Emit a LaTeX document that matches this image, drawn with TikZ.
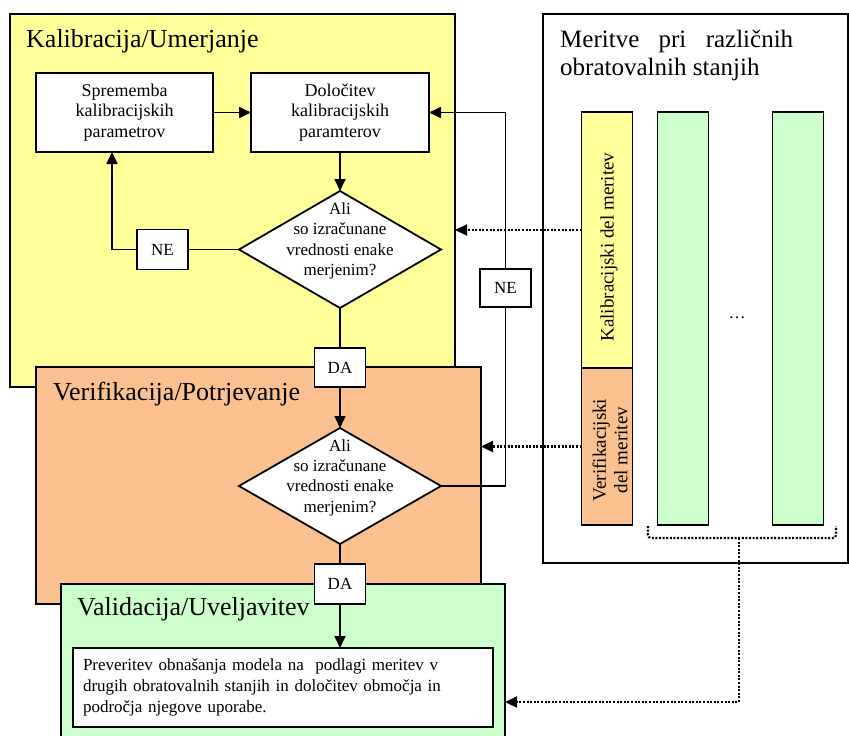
\documentclass[tikz,border=0pt]{standalone}
\usepackage{fontspec}
\setmainfont{Liberation Serif}
\usetikzlibrary{shapes.geometric,arrows.meta}

\definecolor{calyellow}{HTML}{FFFF99}
\definecolor{verorange}{HTML}{FAC090}
\definecolor{valgreen}{HTML}{CCFFCC}

\tikzset{
  region/.style={draw=black, line width=1.8pt, inner sep=0pt, outer sep=0pt},
  stage title/.style={font=\fontsize{26}{30}\selectfont, inner sep=0pt, anchor=base west},
  procbox/.style={draw=black, fill=white, line width=1.8pt, align=center,
    font=\fontsize{18}{20.5}\selectfont, inner sep=0pt, outer sep=0pt},
  tagbox/.style={procbox, font=\fontsize{17}{20}\selectfont, minimum width=51, minimum height=40},
  decision/.style={diamond, draw=black, fill=white, line width=1.8pt,
    inner sep=0pt, outer sep=0pt, minimum width=202, minimum height=117},
  decision text/.style={align=center, font=\fontsize{17}{20.3}\selectfont, inner sep=0pt},
  column/.style={draw=black, line width=1.8pt, inner sep=0pt, outer sep=0pt, minimum width=51},
  coltext/.style={rotate=90, align=center, font=\fontsize{19}{21.5}\selectfont, inner sep=0pt},
  link/.style={line width=1.7pt},
  flow/.style={line width=1.7pt, -{Triangle[length=12pt,width=11pt]}},
  dotlink/.style={line width=2.2pt, dash pattern=on 2pt off 1.6pt,
    -{Triangle[length=12pt,width=11pt]}},
  dotline/.style={line width=2.2pt, dash pattern=on 2pt off 1.6pt, rounded corners=3pt},
}

\begin{document}
\begin{tikzpicture}[x=1pt,y=-1pt]
\useasboundingbox (0,0) rectangle (849,736);

% stage regions, stacked from back to front
\node[region, fill=calyellow, minimum width=445, minimum height=373] (kal) at (232.5,200.5) {};
\node[region, fill=verorange, minimum width=445, minimum height=237] (ver) at (258.5,485.5) {};
\node[region, fill=valgreen, minimum width=444, minimum height=170] (val) at (283,669) {};
\node[region, fill=white, minimum width=305, minimum height=549] (mer) at (695.5,288.5) {};

% titles
\node[stage title] (kaltitle) at (26,47) {Kalibracija/Umerjanje};
\node[stage title] (vertitle) at (53,400) {Verifikacija/Potrjevanje};
\node[stage title] (valtitle) at (77,615) {Validacija/Uveljavitev};
\node[stage title, font=\fontsize{25}{28}\selectfont] (mertitleA) at (560,47)
  {\makebox[233pt][s]{Meritve pri različnih}};
\node[stage title, font=\fontsize{25}{28}\selectfont] (mertitleB) at (560,75)
  {obratovalnih stanjih};

% calibration loop
\node[procbox, minimum width=177, minimum height=79] (spr) at (124.5,112.5)
  {Sprememba\\kalibracijskih\\parametrov};
\node[procbox, minimum width=178, minimum height=79] (dol) at (340,112.5)
  {Določitev\\kalibracijskih\\paramterov};
\node[decision] (q1) at (340,249.5) {};
\node[decision text] (q1t) at (340,241) {Ali\\so izračunane\\vrednosti enake\\merjenim?};
\node[tagbox] (ne1) at (162.5,249.5) {NE};
\node[tagbox, minimum height=39] (da1) at (340,367.5) {DA};

% verification
\node[decision, minimum height=116] (q2) at (340,486) {};
\node[decision text] (q2t) at (340,477.5) {Ali\\so izračunane\\vrednosti enake\\merjenim?};
\node[tagbox, minimum height=38] (ne2) at (505.5,288) {NE};
\node[tagbox] (da2) at (340,584) {DA};

% validation
\node[procbox, align=left, text width=400, inner xsep=10pt, minimum height=79,
  font=\fontsize{17}{21}\selectfont] (prev) at (283,687.5)
  {Preveritev obnašanja modela na\ \ podlagi meritev v\\
   drugih obratovalnih stanjih in določitev območja in\\
   področja njegove uporabe.};

% measurement columns
\node[column, fill=calyellow, minimum height=256] (kcol) at (607,240) {};
\node[column, fill=verorange, minimum height=157] (vcol) at (607,446.5) {};
\node[column, fill=valgreen, minimum height=413] (gcolA) at (683,318.5) {};
\node[column, fill=valgreen, minimum height=413] (gcolB) at (798,318.5) {};
\node[coltext] (ktext) at (609,247) {Kalibracijski del meritev};
\node[coltext] (vtext) at (610,450) {Verifikacijski\\del meritev};
\node[font=\fontsize{17}{20}\selectfont, inner sep=0pt] (gdots) at (737,318) {\dots};

% solid connectors
\draw[flow] (spr) -- (dol);
\draw[flow] (dol) -- (q1);
\draw[link] (q1.west) -- (ne1.east);
\coordinate (loopA) at (112,249.5);
\draw[flow] (ne1.west) -- (loopA) -- (loopA |- spr.south);
\draw[link] (q1.south) -- (da1.north);
\draw[flow] (da1.south) -- (q2.north);
\draw[link] (q2.east) -- (q2.east -| ne2.south) -- (ne2.south);
\draw[flow] (ne2.north) -- (ne2.north |- dol.east) -- (dol.east);
\draw[link] (q2.south) -- (da2.north);
\draw[flow] (da2.south) -- (da2.south |- prev.north);

% dotted data connectors
\path ([yshift=10pt]kcol.west) coordinate (kin);
\draw[dotlink] (kin) -- (kin -| kal.east);
\draw[dotlink] (vcol.west) -- (vcol.west -| ver.east);
\coordinate (brL) at (648,526);
\coordinate (brR) at (836,526);
\coordinate (brmid) at (739,538);
\coordinate (brturn) at (739,702);
\draw[dotline] (brL) -- (brL |- brmid) -- (brR |- brmid) -- (brR);
\draw[dotlink] (brmid) -- (brturn) -- (brturn -| val.east);
\end{tikzpicture}
\end{document}
